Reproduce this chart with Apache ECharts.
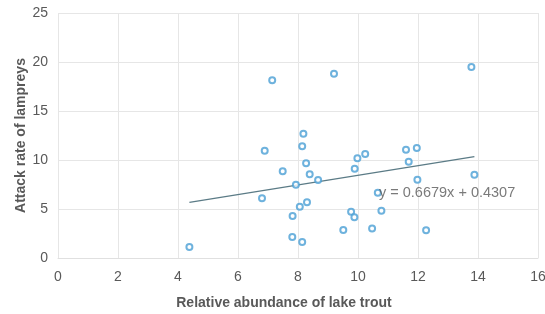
<!DOCTYPE html>
<html>
<head>
<meta charset="utf-8">
<script src="https://cdn.jsdelivr.net/npm/echarts@6/dist/echarts.min.js"></script>
<style>
    html, body {margin: 0; padding: 0; background: #fff;}
    #main {width: 545px; height: 314px;}
</style>
</head>
<body>
<div id="main"></div>
<script>
    // 湖鳟丰度 vs 七鳃鳗攻击率
    var troutAbundance = [7.14, 9.2, 8.18, 8.14, 6.89, 8.27, 7.49, 8.39, 8.67, 7.93, 6.8, 8.3, 8.06, 7.82, 9.51, 7.81, 8.14, 4.38,
        9.98, 10.24, 9.89, 11.6, 11.96, 11.69, 11.98, 13.88, 10.66, 9.77, 9.88, 10.78, 10.47, 12.27, 13.78];
    var attackRate = [18.13, 18.8, 12.68, 11.4, 10.95, 9.66, 8.84, 8.54, 7.96, 7.48, 6.09, 5.68, 5.24, 4.29, 2.86, 2.14, 1.63, 1.12,
        10.17, 10.61, 9.11, 11.05, 11.22, 9.83, 7.99, 8.5, 6.67, 4.73, 4.15, 4.83, 3.0, 2.82, 19.49];
    // 趋势线两端
    var trendX = [4.38, 13.88];
    var trendY = [5.68, 10.34];
    var trendLabel = 'y = 0.6679x + 0.4307';

    var myChart = echarts.init(document.getElementById('main'));

    var points = [];
    for (var i = 0; i < troutAbundance.length; i++) {
        points.push([troutAbundance[i], attackRate[i]]);
    }
    var trend = [];
    for (var j = 0; j < trendX.length; j++) {
        trend.push([trendX[j], trendY[j]]);
    }

    var gridLine = {show: true, lineStyle: {color: '#e6e6e6', width: 1}};
    var option = {
        animation: false,
        textStyle: {fontFamily: '"Liberation Sans", Arial, sans-serif'},
        grid: {left: 58, right: 7, top: 13, bottom: 56, outerBoundsMode: 'none'},
        xAxis: {
            type: 'value',
            min: 0, max: 16, interval: 2,
            name: 'Relative abundance of lake trout',
            nameLocation: 'middle',
            nameGap: 38,
            nameMoveOverlap: false,
            nameTextStyle: {color: '#595959', fontSize: 14, fontWeight: 'bold', padding: [0, 28, 0, 0]},
            axisLine: {show: true, lineStyle: {color: '#e0e0e0'}},
            axisTick: {show: false},
            axisLabel: {color: '#595959', fontSize: 14, margin: 12},
            splitLine: gridLine
        },
        yAxis: {
            type: 'value',
            min: 0, max: 25, interval: 5,
            name: 'Attack rate of lampreys',
            nameLocation: 'middle',
            nameGap: 30,
            nameMoveOverlap: false,
            nameTextStyle: {color: '#595959', fontSize: 14, fontWeight: 'bold'},
            axisLine: {show: false},
            axisTick: {show: false},
            axisLabel: {color: '#595959', fontSize: 14, margin: 10},
            splitLine: gridLine
        },
        series: [
            {
                type: 'line',
                data: trend,
                symbol: 'none',
                lineStyle: {color: '#5b7b86', width: 1.3},
                z: 1
            },
            {
                type: 'scatter',
                data: points,
                symbol: 'circle',
                symbolSize: 6,
                itemStyle: {color: '#ffffff', borderColor: '#4a9fd4', borderWidth: 2},
                z: 3
            },
            {
                type: 'scatter',
                data: [[10.7, 6.67]],
                symbolSize: 0,
                silent: true,
                label: {
                    show: true,
                    position: 'right',
                    distance: 0,
                    formatter: trendLabel,
                    color: '#595959',
                    fontSize: 14.5
                },
                z: 4
            }
        ]
    };
    myChart.setOption(option);
</script>
</body>
</html>
